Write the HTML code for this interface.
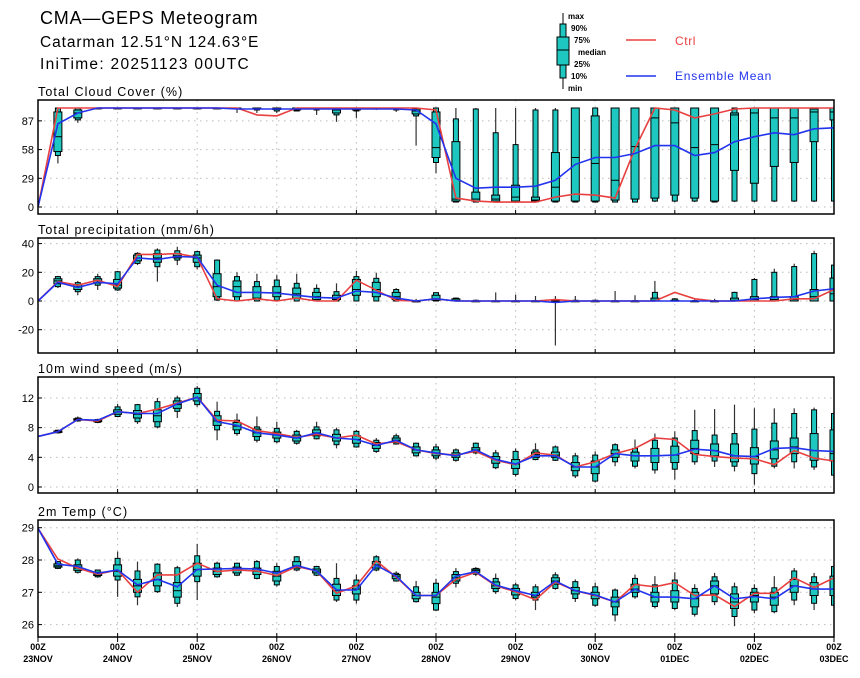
<!DOCTYPE html>
<html><head><meta charset="utf-8"><style>
body{margin:0;background:#fff;}
svg text{font-family:"Liberation Sans",sans-serif;}
</style></head><body>
<svg id="chart" width="860" height="673" viewBox="0 0 860 673" xmlns="http://www.w3.org/2000/svg">
<rect width="860" height="673" fill="#fff"/>
<text x="40" y="24" font-size="18" letter-spacing="0.8" fill="#000">CMA—GEPS Meteogram</text>
<text x="40" y="47" font-size="15.5" letter-spacing="0.9" fill="#000">Catarman 12.51°N 124.63°E</text>
<text x="40" y="69" font-size="15.5" letter-spacing="1.3" fill="#000">IniTime: 20251123 00UTC</text>
<g id="legend">
  <line x1="563" y1="13" x2="563" y2="89" stroke="#000"/>
  <rect x="560" y="24" width="6" height="54" fill="#1ec8c0" stroke="#000"/>
  <rect x="557" y="37" width="12" height="28" fill="#1ec8c0" stroke="#000"/>
  <line x1="557" y1="50" x2="569" y2="50" stroke="#000"/>
  <g font-size="8" font-weight="bold">
  <text x="568" y="19">max</text><text x="571" y="31">90%</text><text x="574" y="43">75%</text>
  <text x="578" y="55">median</text><text x="574" y="67">25%</text><text x="571" y="79">10%</text><text x="568" y="91">min</text></g>
  <line x1="626" y1="40" x2="656" y2="40" stroke="#e84040" stroke-width="1.5"/>
  <text x="675" y="45" font-size="12" letter-spacing="0.6" fill="#e84040">Ctrl</text>
  <line x1="626" y1="76" x2="656" y2="76" stroke="#2233ee" stroke-width="1.5"/>
  <text x="675" y="80" font-size="12" letter-spacing="0.8" fill="#2233ee">Ensemble Mean</text>
</g>
</svg>
<script>
const dayLabels=["23NOV","24NOV","25NOV","26NOV","27NOV","28NOV","29NOV","30NOV","01DEC","02DEC","03DEC"];
// cloud cover
const cloudTicks=[0,29,58,87];
const cloudCtrl=[0,100,100,100,100,100,100,100,100,100,100,93,92,100,100,100,100,100,100,100,98,9,6,5,5,5,10,13,12,9,59,100,98,90,94,99,100,100,100,100,100];
const cloudMean=[0,84,95,100,100,100,100,100,100,100,99,99,99,99,99,99,99,99,99,98,84,29,19,20,20,21,27,43,50,50,54,62,62,52,55,66,71,75,73,79,80];
const cloudBox=[null,[44,52,56,71,96,100,100],[85,88,90,95,98,100,100],[99,99.5,100,100,100,100,100],[99,99.5,100,100,100,100,100],[99,99.5,100,100,100,100,100],[99,99.5,100,100,100,100,100],[99,99.5,100,100,100,100,100],[99,99.5,100,100,100,100,100],[99,99.5,100,100,100,100,100],[95,99,99.5,100,100,100,100],[95,98,99,100,100,100,100],[95,97,98.5,99.5,100,100,100],[97,97,98,99,100,100,100],[93,98,99,100,100,100,100],[86,93,95,98,100,100,100],[90,97,98,99,100,100,100],[98,99,99.5,100,100,100,100],[96,98,99,100,100,100,100],[62,92,94,97,99,100,100],[34,45,50,60,96,100,100],[5,5,6,8,66,89,100],[5,5,6,8,15,99,100],[5,5,6,8,12,75,100],[5,5,6,10,22,63,100],[5,5,6,7,10,98,100],[5,5,6,20,55,98,100],[5,5,6,50,100,100,100],[5,5,6,44,92,100,100],[5,5,7,27,100,100,100],[5,5,8,61,100,100,100],[5,6,9,90,100,100,100],[5,6,12,85,100,100,100],[5,6,9,60,100,100,100],[5,5,6,63,100,100,100],[5,6,37,93,95,100,100],[5,6,24,95,100,100,100],[5,6,41,90,100,100,100],[5,6,45,90,100,100,100],[5,6,66,96,99,100,100],[5,6,88,96,100,100,100]];
// precipitation
const precTicks=[-20,0,20,40];
const precCtrl=[0,13.5,11,14.5,10,32.5,32.5,33,30.5,1.5,0,1.5,0,2,0,0,14.5,7.5,0.5,0,1.5,0,0,0,0,0,1,0,0,0,0,0,6,1.5,0,0,0,0,1.5,1.5,8];
const precMean=[0,13,9.5,13,12,30,29,31,30.5,11,6,6,5.5,4,2.5,2,7,6,2,0,1.5,0,0,0,0,0,-1,0,0,0,0,0,0,0,0,0,1.5,2.5,3,7,8.5];
const precBox=[null,[9,10,12,14,15.5,17,17.5],[4,6.5,8,10,11.5,12.8,14],[7.7,11,12.5,14,15.5,17,19],[7,7.7,9,11,15,20.4,21],[25,26.2,28,30,32,33.2,34],[13.5,23.9,27,30,33,35.5,36.7],[25,28.5,30,31.5,33,35,37.8],[22,23.9,27,30,32,34.4,35],[0,0.7,3,10,19,28.5,29],[0,0,3,10,14,17,20],[0,0,2,6,10,13.5,19],[0,0.5,3,6,10,14.6,18],[0,0,2,5,9,12.3,19],[0,0,1,3,6,8.8,11.6],[0,0,1,2,4,6.5,12.3],[0,0,4,8,15,17,21],[0,0,3,8,13,15.8,19.7],[0,0,1,3,6,8,9],[0,0,0,0,0,0,1.5],[0,0,0.5,1.5,4,5.8,6],[0,0,0,0.5,1.5,2,2.5],[0,0,0,0,0,0.5,1],[0,0,0,0,0,0.2,6],[0,0,0,0,0,0.2,4.5],[0,0,0,0,0,0.3,3.5],[-31,0,0,0,0,0.3,3.5],[0,0,0,0,0,0.5,3.5],[0,0,0,0,0,0.5,1],[0,0,0,0,0,0.3,7],[0,0,0,0,0,0.3,4],[0,0,0,0.5,2,6,14],[0,0,0,0,0.5,1.5,2],[0,0,0,0,0,0.3,1],[0,0,0,0,0,0.3,1.5],[0,0,0,0.5,2,6,6.5],[0,0,0,1,3,15,16],[0,0,0,1,3,20,22.5],[0,0,0,1,3,24,26],[0,0,0,3,8,33,35],[0,0,0,5,16,25,27]];
// wind
const windTicks=[0,4,8,12];
const windCtrl=[6.8,7.45,9.1,8.9,10.15,9.9,10.5,11.3,12.1,9.0,8.9,7.6,7.2,6.7,7.1,6.6,7.0,5.8,6.1,5.0,4.5,4.3,4.8,3.6,3.0,4.6,4.3,2.7,3.4,4.5,5.2,6.6,6.4,4.4,4.1,3.9,3.8,3.0,4.9,3.9,3.5];
const windMean=[6.8,7.45,9.1,9.0,10.15,9.9,9.9,11.2,12.1,8.8,8.3,7.3,7.0,6.6,7.3,6.6,6.4,5.6,6.3,5.0,4.6,4.2,5.0,3.7,3.1,4.2,4.2,2.7,2.7,4.5,4.2,4.2,4.3,5.1,4.9,4.2,4.1,5.2,5.3,4.9,4.8];
const windBox=[null,[7.2,7.3,7.35,7.45,7.55,7.65,7.7],[8.8,8.9,9.0,9.1,9.2,9.3,9.5],[8.6,8.7,8.8,8.9,9.0,9.1,9.2],[9.4,9.5,9.8,10.1,10.4,10.8,11.2],[8.5,8.8,9.3,9.8,10.3,11.1,11.2],[7.9,8.1,8.8,9.6,10.4,11.5,12.0],[9.3,10.2,10.6,11.1,11.6,12.0,12.3],[10.8,11.1,11.6,12.0,12.6,13.3,13.6],[6.3,7.7,8.3,8.9,9.6,10.2,11.5],[6.9,7.2,7.7,8.2,8.7,9.0,9.9],[6.0,6.3,6.8,7.3,7.8,8.1,9.5],[5.9,6.1,6.6,7.0,7.4,7.9,8.8],[5.7,5.9,6.2,6.6,7.0,7.5,7.7],[6.4,6.5,6.9,7.3,7.7,8.1,8.8],[5.2,5.7,6.2,6.6,7.1,7.7,8.0],[5.3,5.4,5.9,6.4,6.9,7.5,7.7],[4.6,4.8,5.2,5.6,6.0,6.3,6.6],[5.7,5.8,6.0,6.3,6.6,6.9,7.2],[4.1,4.2,4.6,5.0,5.4,5.9,6.0],[3.6,3.9,4.2,4.6,5.0,5.4,5.8],[3.4,3.6,4.0,4.3,4.6,5.0,5.2],[4.4,4.6,4.8,5.0,5.3,5.9,6.0],[2.4,2.6,3.2,3.7,4.1,4.6,5.0],[1.4,1.7,2.5,3.1,3.7,4.8,5.2],[3.6,3.7,4.0,4.4,4.7,5.0,5.9],[3.5,3.6,4.0,4.3,4.7,5.4,5.6],[1.2,1.5,2.2,2.7,3.3,4.2,4.6],[0.6,0.8,1.8,2.7,3.5,4.3,4.8],[2.8,3.4,4.0,4.5,5.0,5.7,5.9],[2.5,2.8,3.5,4.2,4.7,5.2,6.4],[1.8,2.3,3.3,4.2,5.2,6.3,7.2],[1.0,2.4,3.3,4.3,5.5,6.6,7.5],[3.0,3.4,4.5,5.2,6.3,7.6,10.4],[2.7,3.5,4.2,4.9,5.8,7.0,10.5],[2.1,2.8,3.4,4.2,5.8,7.2,11.1],[0.3,1.8,3.1,4.1,5.3,7.8,10.6],[2.5,2.8,3.8,5.0,6.2,8.6,10.6],[2.5,3.4,4.5,5.4,6.6,9.9,10.6],[2.3,2.7,3.6,4.9,7.2,10.4,10.7],[1.3,1.6,3.5,4.5,7.7,9.9,10.2]];
// temperature
const tempTicks=[26,27,28,29];
const tempCtrl=[28.98,28.03,27.75,27.56,27.69,27.0,27.54,27.54,27.9,27.64,27.69,27.66,27.52,27.8,27.66,26.97,27.2,27.97,27.47,26.9,26.9,27.4,27.62,27.2,27.02,26.77,27.32,27.05,26.9,26.7,27.24,27.17,27.3,26.9,26.92,26.56,26.97,26.97,27.45,27.15,27.45];
const tempMean=[28.98,27.87,27.8,27.59,27.69,27.23,27.4,27.17,27.71,27.72,27.74,27.72,27.59,27.83,27.66,27.07,27.07,27.84,27.5,26.9,26.9,27.5,27.64,27.22,27.05,26.9,27.35,27.05,26.92,26.7,27.1,26.85,26.85,26.8,27.2,26.8,26.87,26.8,27.2,27.1,27.1];
const tempBox=[null,[27.72,27.74,27.78,27.82,27.88,27.95,27.97],[27.58,27.62,27.68,27.75,27.85,28.0,28.05],[27.45,27.48,27.52,27.56,27.62,27.69,27.7],[26.86,27.38,27.5,27.65,27.85,28.05,28.26],[26.6,26.86,27.0,27.2,27.4,27.66,27.95],[26.98,27.02,27.2,27.4,27.6,27.87,27.9],[26.55,26.66,26.85,27.05,27.3,27.76,27.82],[26.76,27.33,27.5,27.7,27.9,28.13,28.5],[27.45,27.48,27.55,27.65,27.75,27.9,27.95],[27.5,27.53,27.6,27.68,27.78,27.9,27.92],[27.4,27.43,27.55,27.65,27.75,27.95,28.0],[27.18,27.23,27.35,27.5,27.65,27.8,27.9],[27.65,27.69,27.75,27.82,27.95,28.1,28.12],[27.5,27.53,27.6,27.66,27.72,27.8,27.82],[26.7,26.76,26.9,27.05,27.25,27.43,27.9],[26.65,26.76,26.95,27.1,27.2,27.38,27.55],[27.65,27.69,27.75,27.85,27.95,28.1,28.15],[27.33,27.35,27.42,27.5,27.55,27.59,27.65],[26.68,26.71,26.8,26.9,27.0,27.17,27.35],[26.42,26.45,26.65,26.85,27.0,27.28,27.42],[27.15,27.28,27.35,27.45,27.55,27.64,27.75],[27.5,27.56,27.62,27.68,27.72,27.74,27.78],[26.95,27.02,27.12,27.2,27.32,27.43,27.58],[26.75,26.81,26.92,27.02,27.12,27.23,27.3],[26.45,26.76,26.85,26.9,27.0,27.17,27.25],[27.08,27.12,27.25,27.35,27.45,27.54,27.62],[26.7,26.81,26.95,27.05,27.15,27.33,27.4],[26.55,26.6,26.8,26.9,27.0,27.17,27.3],[26.1,26.3,26.55,26.7,26.85,27.07,27.12],[26.8,26.86,27.0,27.1,27.25,27.43,27.55],[26.5,26.56,26.7,26.85,27.0,27.23,27.5],[26.45,26.5,26.7,26.85,27.05,27.38,27.62],[26.25,26.32,26.55,26.8,27.0,27.12,27.25],[26.6,26.71,26.95,27.2,27.35,27.48,27.6],[25.95,26.25,26.5,26.7,26.95,27.17,27.3],[26.35,26.45,26.7,26.9,27.0,27.12,27.25],[26.35,26.4,26.6,26.85,27.0,27.14,27.5],[26.6,26.76,27.0,27.2,27.4,27.66,27.75],[26.45,26.66,26.9,27.1,27.3,27.48,27.6],[26.5,26.6,26.9,27.1,27.5,27.8,27.85]];

const NS="http://www.w3.org/2000/svg";
const svg=document.getElementById('chart');
const X0=38,X1=834,NSTEP=40;
function xs(i){return X0+(X1-X0)*i/NSTEP;}
function mk(tag,attrs,parent){const e=document.createElementNS(NS,tag);for(const k in attrs)e.setAttribute(k,attrs[k]);(parent||svg).appendChild(e);return e;}
const panels=[
 {name:'cloud',title:'Total Cloud Cover (%)',top:100,bot:214,ticks:cloudTicks,ctrl:cloudCtrl,mean:cloudMean,box:cloudBox,y:v=>207-v*0.99},
 {name:'precip',title:'Total precipitation (mm/6h)',top:238,bot:353,ticks:precTicks,ctrl:precCtrl,mean:precMean,box:precBox,y:v=>301-v*1.435},
 {name:'wind',title:'10m wind speed (m/s)',top:377,bot:493,ticks:windTicks,ctrl:windCtrl,mean:windMean,box:windBox,y:v=>487-v*7.42},
 {name:'temp',title:'2m Temp (°C)',top:520,bot:637,ticks:tempTicks,ctrl:tempCtrl,mean:tempMean,box:tempBox,y:v=>560-(v-28)*32.3}
];
panels.forEach(p=>{
  const g=mk('g',{});
  
  
  const t=mk('text',{x:38,y:p.top-4,'font-size':12.5,'letter-spacing':1.1},g);t.textContent=p.title;
  
  
  const clip=mk('clipPath',{id:'clip-'+p.name},g);
  mk('rect',{x:X0,y:p.top,width:X1-X0,height:p.bot-p.top},clip);
  for(let d=1;d<10;d++){const l=mk('line',{x1:xs(d*4),x2:xs(d*4),y1:p.top,y2:p.bot,stroke:'#bbb','stroke-dasharray':'1.5,4.5'},g);
    }
  p.ticks.forEach(tv=>{const yy=p.y(tv);
    const l=mk('line',{x1:X0,x2:X1,y1:yy,y2:yy,stroke:'#bbb','stroke-dasharray':'1.5,4.5'},g);
    
    mk('line',{x1:X0,x2:X0+4,y1:yy,y2:yy,stroke:'#000'},g);
    const tl=mk('text',{x:X0-4,y:yy+4,'font-size':11,'text-anchor':'end'},g);tl.textContent=tv;
    });
  const inner=mk('g',{'clip-path':'url(#clip-'+p.name+')'},g);
  for(let i=1;i<=NSTEP;i++){const b=p.box[i];if(!b)continue;const x=xs(i);
    const bg=mk('g',{},inner);
    
    
    mk('line',{x1:x,x2:x,y1:p.y(b[6]),y2:p.y(b[0]),stroke:'#333','stroke-width':1.2},bg);
    const y90=p.y(b[5]),y10=p.y(b[1]);
    mk('rect',{x:x-2.5,y:y90,width:5,height:Math.max(y10-y90,0.8),fill:'#1ec8c0',stroke:'#000','stroke-width':1},bg);
    const y75=p.y(b[4]),y25=p.y(b[2]);
    mk('rect',{x:x-4,y:y75,width:8,height:Math.max(y25-y75,0.8),fill:'#1ec8c0',stroke:'#000','stroke-width':1},bg);
    const ym=p.y(b[3]);mk('line',{x1:x-4,x2:x+4,y1:ym,y2:ym,stroke:'#000','stroke-width':1},bg);
  }
  const pts=a=>a.map((v,i)=>xs(i).toFixed(1)+','+p.y(v).toFixed(1)).join(' ');
  const lc=mk('polyline',{points:pts(p.ctrl),fill:'none',stroke:'#e84040','stroke-width':1.6},inner);
  
  const lm=mk('polyline',{points:pts(p.mean),fill:'none',stroke:'#2233ee','stroke-width':1.6},inner);
  
  const fr=mk('rect',{x:X0,y:p.top,width:X1-X0,height:p.bot-p.top,fill:'none',stroke:'#000','stroke-width':1.5},g);
  
  for(let d=0;d<=10;d++){mk('line',{x1:xs(d*4),x2:xs(d*4),y1:p.bot,y2:p.bot-4,stroke:'#000'},g);}
});
dayLabels.forEach((dl,d)=>{const x=xs(d*4);
  const a=mk('text',{x:x,y:650,'font-size':9,'font-weight':'bold','text-anchor':'middle'});a.textContent='00Z';
  
  const b=mk('text',{x:x,y:662,'font-size':9,'font-weight':'bold','text-anchor':'middle'});b.textContent=dl;
  
  mk('line',{x1:x,x2:x,y1:637,y2:642,stroke:'#000'});
});
</script>
</body></html>
